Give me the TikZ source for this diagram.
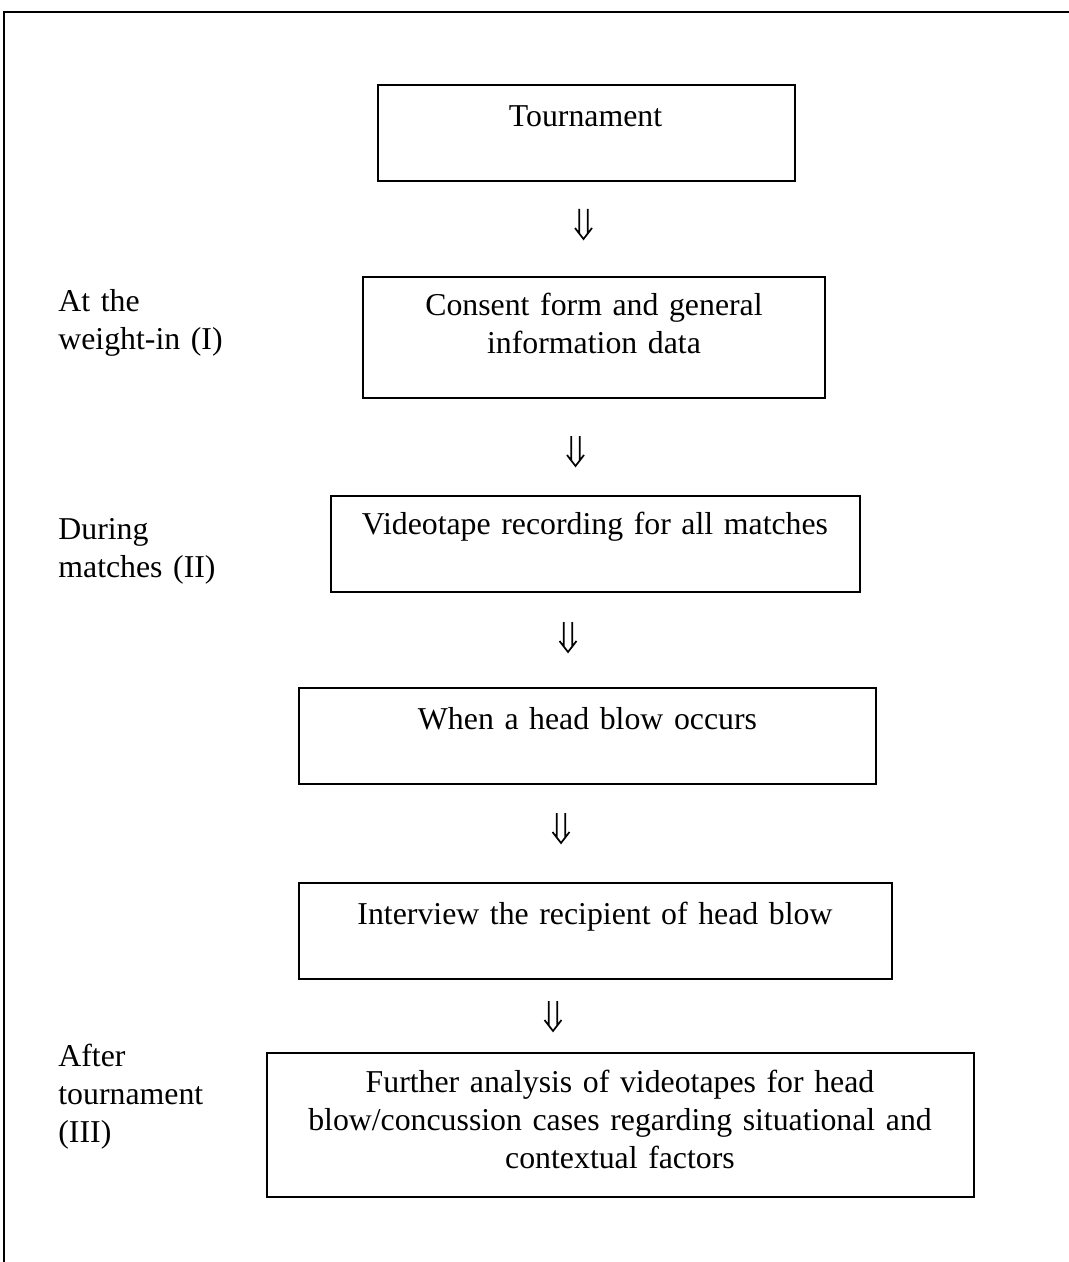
\documentclass[tikz,border=0pt]{standalone}
\usepackage{fontspec}
\setmainfont{Liberation Serif}
\begin{document}
\begin{tikzpicture}[x=0.5pt,y=-0.5pt,
  stepbox/.style={draw, line width=0.85pt, rectangle, inner sep=0pt, anchor=north west},
  boxtext/.style={font=\fontsize{15.9}{19}\selectfont, inner sep=0pt, align=center, anchor=base},
  sidetext/.style={font=\fontsize{15.9}{19}\selectfont, inner sep=0pt, align=left, anchor=base west, text width=90pt},
  dblarrow/.pic={\draw[line width=0.85pt] (-4.2,-30) -- (-4.2,-5) (4.2,-30) -- (4.2,-5) (-8.5,-11) -- (0,0) -- (8.5,-11);}
]
\useasboundingbox (0,0) rectangle (1069,1262);
% outer frame (top and left edges only)
\draw[line width=0.85pt] (4,1262) -- (4,12) -- (1069,12);

% boxes
\node[stepbox, minimum width=208.5pt, minimum height=48pt] (b1) at (377,84) {};
\node[stepbox, minimum width=231pt, minimum height=60.5pt] (b2) at (362,276) {};
\node[stepbox, minimum width=264.5pt, minimum height=48pt] (b3) at (330,495) {};
\node[stepbox, minimum width=288.5pt, minimum height=48pt] (b4) at (298,687) {};
\node[stepbox, minimum width=296.5pt, minimum height=48pt] (b5) at (298,882) {};
\node[stepbox, minimum width=353.5pt, minimum height=72pt] (b6) at (266,1052) {};

% box texts
\node[boxtext, text width=200pt] (t1) at (585.5,127) {Tournament};
\node[boxtext, text width=225pt] (t2) at (594,316) {Consent form and general\\information data};
\node[boxtext, text width=260pt] (t3) at (595,534) {Videotape recording for all matches};
\node[boxtext, text width=280pt] (t4) at (587.5,729) {When a head blow occurs};
\node[boxtext, text width=290pt] (t5) at (595,924) {Interview the recipient of head blow};
\node[boxtext, text width=350pt] (t6) at (620,1092) {Further analysis of videotapes for head\\blow/concussion cases regarding situational and\\contextual factors};

% side labels
\node[sidetext] (s1) at (58,312) {At the\\weight-in (I)};
\node[sidetext] (s2) at (58,539) {During\\matches (II)};
\node[sidetext] (s3) at (58,1066) {After\\tournament\\(III)};

% arrows
\pic (a1) at (583.5,239) {dblarrow};
\pic (a2) at (575.5,466) {dblarrow};
\pic (a3) at (568,652) {dblarrow};
\pic (a4) at (561,843) {dblarrow};
\pic (a5) at (553,1031) {dblarrow};
\end{tikzpicture}
\end{document}
